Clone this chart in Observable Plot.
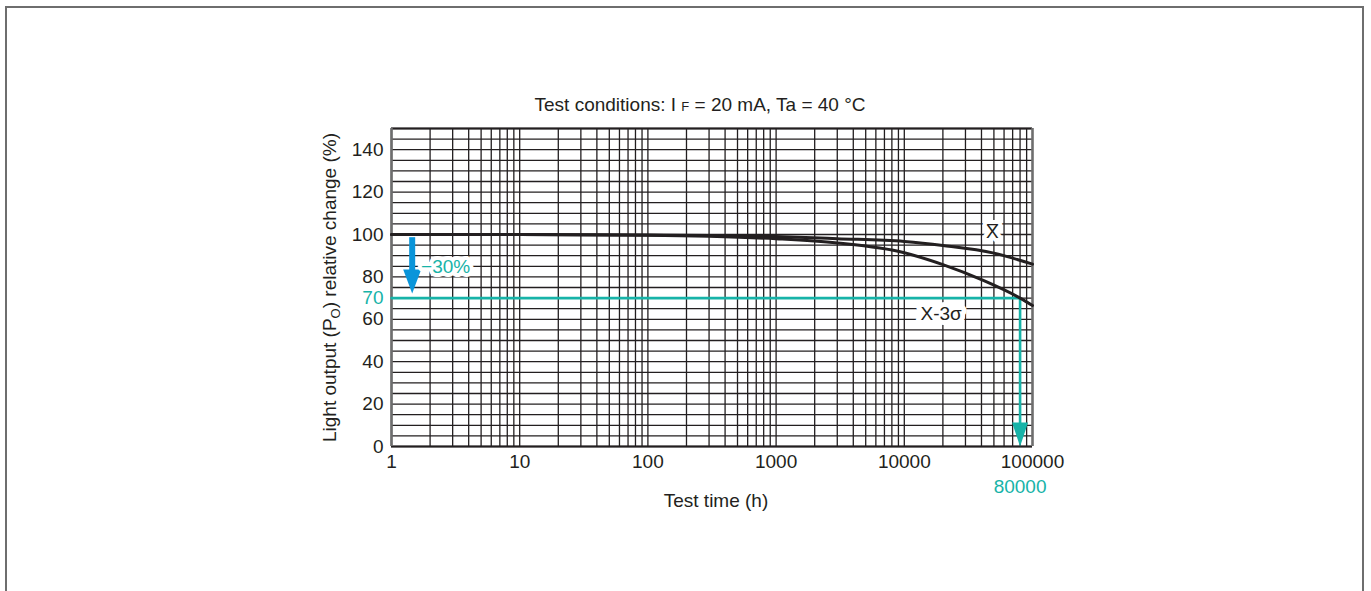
<!DOCTYPE html>
<html>
<head>
<meta charset="utf-8">
<script src="https://cdn.jsdelivr.net/npm/d3@7"></script>
<script src="https://cdn.jsdelivr.net/npm/@observablehq/plot@0.6"></script>
<style>
  html, body { margin: 0; padding: 0; background: #fff; }
  #page { position: relative; width: 1371px; height: 591px; overflow: hidden; }
  #border { position: absolute; left: 5px; top: 6px; width: 1359px; height: 700px;
            border: 2px solid #6e6e6e; box-sizing: border-box; }
  #chart { position: absolute; left: 0; top: 0; }
</style>
</head>
<body>
<div id="page"><div id="chart"></div><div id="border"></div></div>
<script>
// ---- data ----
const xbarTime  = [1, 10, 100, 300, 1000, 3000, 10000, 20000, 50000, 100000];
const xbarValue = [100, 100, 99.8, 99.5, 99, 98, 96.7, 94.8, 91.2, 86];
const sigmaTime  = [1, 10, 100, 300, 1000, 3000, 10000, 20000, 40000, 80000, 100000];
const sigmaValue = [100, 100, 99.7, 99.2, 98, 96, 91.4, 85.8, 78.7, 70, 66.5];

const xTicks = [1, 10, 100, 1000, 10000, 100000];
const yTicks = [0, 20, 40, 60, 80, 100, 120, 140];

// annotation values
const threshold = 70;        // 70 % line
const lifetime = 80000;      // hours at which X-3σ hits 70 %
const dropLabel = "\u221230%";
const dropArrowTime = 1.45;
const dropArrowTop = 98.5;
const dropArrowTip = 72.2;
const xbarLabelPos = {t: 48700, v: 101};
const sigmaLabelPos = {t: 19400, v: 62.7};
const dropLabelPos = {t: 1.7, v: 84.8};

const titleText = "Test conditions: I F = 20 mA, Ta = 40 \u00b0C";
const xLabel = "Test time (h)";
const yLabel = "Light output (PO) relative change (%)";

// ---- derived ----
const xbar = xbarTime.map((t, i) => ({t, v: xbarValue[i]}));
const sigma = sigmaTime.map((t, i) => ({t, v: sigmaValue[i]}));
const xGrid = [];
for (let k = 0; k < 5; k++) for (let m = 1; m <= 9; m++) xGrid.push(m * 10 ** k);
const yGrid = d3.range(0, 151, 5);

const ink = "#231f20";
const teal = "#17b3a8";
const blue = "#0a95da";
const FS = 19;

function arrowHead(w, h) {
  return { draw(ctx) { ctx.moveTo(0, 0); ctx.lineTo(-w / 2, -h); ctx.lineTo(w / 2, -h); ctx.closePath(); } };
}

const chart = Plot.plot({
  width: 1371, height: 591,
  marginLeft: 391, marginRight: 339, marginTop: 128, marginBottom: 145,
  x: {type: "log", domain: [1, 100000]},
  y: {domain: [0, 150]},
  style: {fontFamily: "'Liberation Sans', Arial, sans-serif", fontSize: FS + "px", color: ink, background: "white"},
  marks: [
    Plot.ruleX(xGrid, {stroke: ink, strokeWidth: 1.3}),
    Plot.ruleY(yGrid, {stroke: ink, strokeWidth: 1.3}),
    Plot.ruleY([0, 150], {stroke: ink, strokeWidth: 1.8}),
    Plot.ruleX([1, 100000], {stroke: "#6e6e6e", strokeWidth: 2.6}),
    // teal 70% threshold line and drop to 80000 h
    Plot.line([{t: 1, v: threshold}, {t: lifetime, v: threshold}, {t: lifetime, v: 3}],
      {x: "t", y: "v", stroke: teal, strokeWidth: 2.6, strokeLinejoin: "miter"}),
    Plot.dot([{t: lifetime, v: 0}], {x: "t", y: "v", symbol: arrowHead(16, 24), fill: teal, stroke: null, r: 5}),
    // curves
    Plot.line(xbar, {x: "t", y: "v", curve: "monotone-x", stroke: ink, strokeWidth: 3}),
    Plot.line(sigma, {x: "t", y: "v", curve: "monotone-x", stroke: ink, strokeWidth: 3}),
    // blue -30% arrow
    Plot.ruleX([dropArrowTime], {y1: dropArrowTop, y2: dropArrowTip + 10, stroke: blue, strokeWidth: 6}),
    Plot.dot([{t: dropArrowTime, v: dropArrowTip}], {x: "t", y: "v", symbol: arrowHead(18, 24), fill: blue, stroke: null, r: 5}),
    // labels
    Plot.text([dropLabelPos], {x: "t", y: "v", text: () => dropLabel, textAnchor: "start", fill: teal,
      stroke: "white", strokeWidth: 8, paintOrder: "stroke", fontSize: FS}),
    Plot.text([xbarLabelPos], {x: "t", y: "v", text: () => "X\u0305", fill: ink,
      stroke: "white", strokeWidth: 8, paintOrder: "stroke", fontSize: FS}),
    Plot.text([sigmaLabelPos], {x: "t", y: "v", text: () => "X-3\u03c3", fill: ink,
      stroke: "white", strokeWidth: 10, paintOrder: "stroke", fontSize: FS}),
    // axes
    Plot.axisX(xTicks, {tickSize: 0, tickPadding: 8, tickFormat: d => String(d), label: null, fontSize: FS}),
    Plot.text([lifetime], {x: d => d, frameAnchor: "bottom", dy: 46, text: d => String(d), fill: teal, fontSize: FS}),
    Plot.axisY(yTicks, {tickSize: 0, tickPadding: 8, label: null, fontSize: FS}),
    Plot.axisY([threshold], {tickSize: 0, tickPadding: 8, label: null, color: teal, fontSize: FS}),
    // title & axis labels
    Plot.text([titleText], {frameAnchor: "top", dy: -31, dx: -12, text: d => d, fontSize: FS}),
    Plot.text([xLabel], {frameAnchor: "bottom", dy: 60, dx: 4, text: d => d, fontSize: FS}),
    Plot.text([yLabel], {frameAnchor: "left", dx: -62, rotate: -90, textAnchor: "middle", text: d => d, fontSize: FS})
  ]
});

d3.select(chart).selectAll("text").each(function () {
  const el = d3.select(this);
  const s = this.textContent;
  if (s === yLabel) {
    el.text(null);
    el.append("tspan").text("Light output (P");
    el.append("tspan").attr("font-size", 13).attr("dy", 4).text("O");
    el.append("tspan").attr("dy", -4).text(") relative change (%)");
  } else if (s === titleText) {
    el.text(null);
    el.append("tspan").text("Test conditions: I ");
    el.append("tspan").attr("font-size", 13).text("F");
    el.append("tspan").text(" = 20 mA, Ta = 40 \u00b0C");
  }
});

document.getElementById("chart").appendChild(chart);
</script>
</body>
</html>
